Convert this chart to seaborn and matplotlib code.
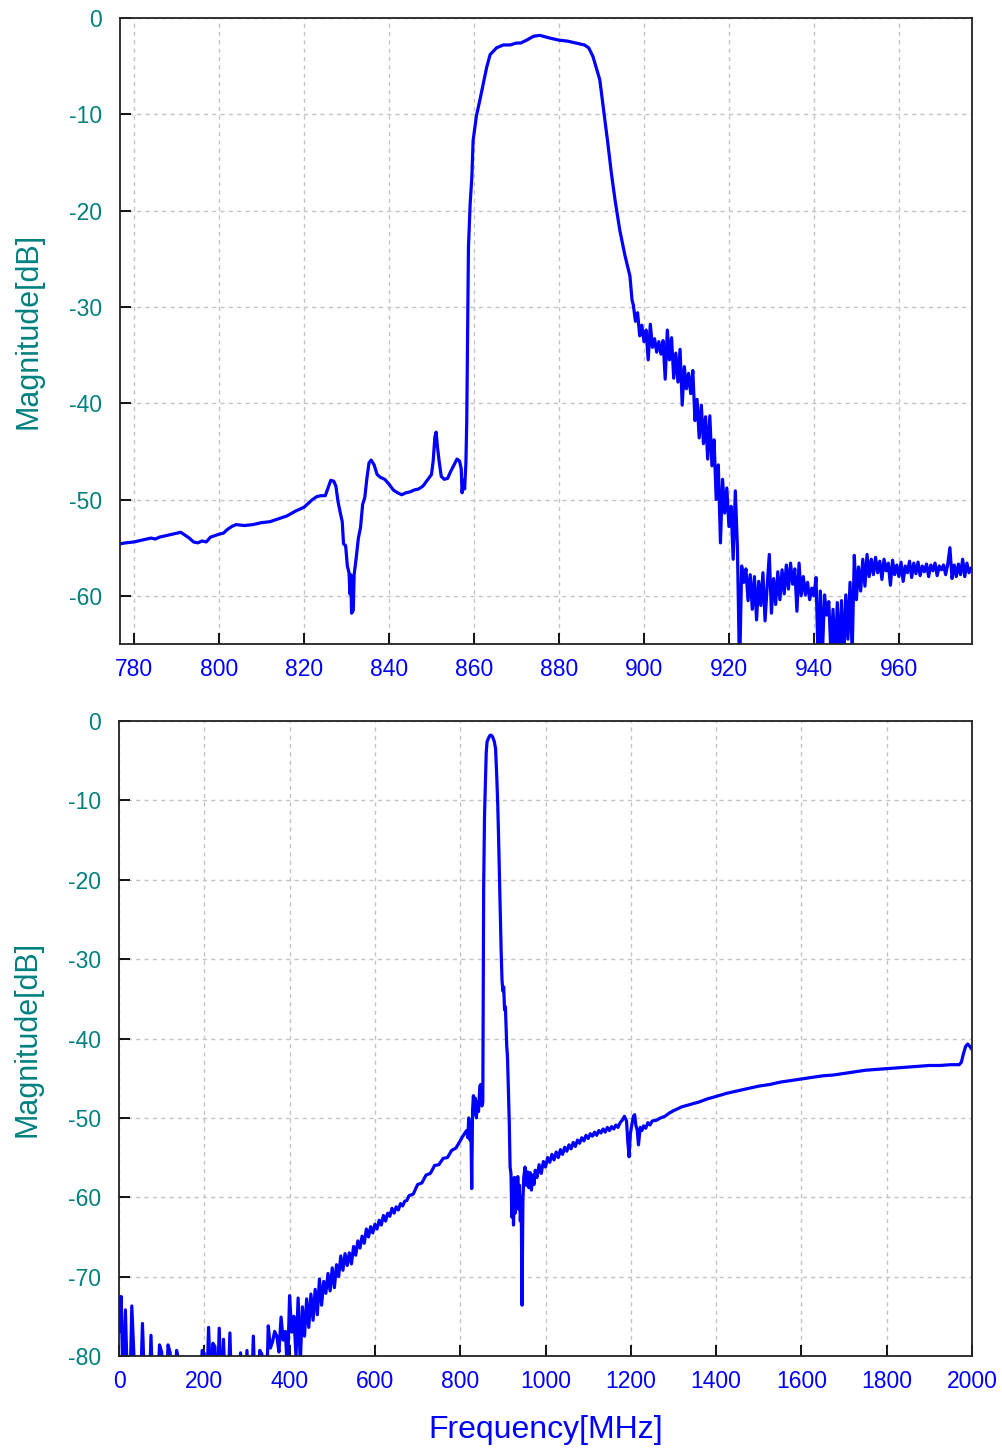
import matplotlib
matplotlib.use("Agg")
import matplotlib.pyplot as plt
import numpy as np
import pandas as pd
import seaborn as sns

# ---------------- data: top panel (zoom 777-977 MHz) ----------------
top_freq_smooth = [
    776.7, 778, 780, 782, 784, 785, 786, 788, 790, 791, 792, 793, 794, 795, 796, 797, 798,
    800, 801, 802, 803, 804, 806, 808, 810, 812, 814, 816, 818, 820, 821, 822, 823, 824, 825,
    825.5, 826.3, 827, 827.5, 828, 828.6, 829, 829.3, 829.8, 830.2, 830.6, 830.8, 831.0, 831.2,
    831.6, 831.8, 832.3, 832.8, 833.3, 833.8, 834.3, 834.8, 835.3, 835.8, 836.5, 837.2, 838,
    839, 840, 841, 842, 843, 844, 845, 846, 847, 848, 849, 850, 850.4, 850.8, 851.1, 851.4,
    851.8, 852.3, 853, 853.8, 854.5, 855.2, 856, 856.6, 857.0, 857.2, 857.5, 857.8, 858.1,
    858.3, 858.5, 858.7, 859.1, 859.5, 859.8, 860.6, 861.4, 862.2, 863, 863.8, 865.3, 866.9,
    868.5, 870, 871, 872.4, 873.2, 874, 875.5, 876.3, 878, 880, 882, 884, 886, 887, 888, 889,
    889.6, 890.2, 890.8, 891.5, 892.3, 893.2, 894.3, 895.5, 896.7, 897.2,
]
top_db_smooth = [
    -54.6, -54.5, -54.4, -54.2, -54.0, -54.1, -53.9, -53.7, -53.5, -53.4, -53.7, -54.0, -54.4, -54.5, -54.3, -54.4, -53.9,
    -53.6, -53.5, -53.1, -52.8, -52.6, -52.7, -52.6, -52.4, -52.3, -52.0, -51.7, -51.2, -50.8, -50.4, -50.0, -49.7, -49.6, -49.6,
    -49.0, -48.0, -48.1, -48.6, -50.2, -51.5, -52.3, -54.6, -54.8, -56.9, -57.6, -59.8, -57.8, -61.8,
    -61.5, -57.8, -56.0, -54.0, -52.9, -50.5, -49.8, -47.8, -46.2, -45.9, -46.4, -47.4, -47.7,
    -47.9, -48.4, -49.0, -49.3, -49.5, -49.3, -49.2, -49.0, -48.9, -48.6, -48.0, -47.4, -46.0, -43.5, -43.0, -44.5,
    -46.0, -47.6, -47.9, -47.8, -47.1, -46.5, -45.8, -46.0, -46.8, -49.3, -48.0, -48.9, -46.2,
    -41.8, -33.0, -23.8, -19.3, -16.5, -12.7, -10.1, -8.5, -6.8, -5.1, -3.8, -3.1, -2.8,
    -2.8, -2.6, -2.6, -2.3, -2.1, -1.9, -1.8, -1.9, -2.1, -2.3, -2.4, -2.6, -2.8, -3.1, -4.0, -5.5,
    -6.4, -8.5, -10.6, -13.0, -16.0, -18.9, -22.0, -24.6, -26.8, -29.3,
]
top_freq_noisy = [
    897.5, 898.0, 898.5, 899.0, 899.5, 900.0, 900.5, 901.0, 901.5, 902.0,
    902.5, 903.0, 903.5, 904.0, 904.5, 905.0, 905.5, 906.0, 906.5, 907.0,
    907.5, 908.0, 908.5, 909.0, 909.5, 910.0, 910.5, 911.0, 911.5, 912.0,
    912.5, 913.0, 913.5, 914.0, 914.5, 915.0, 915.5, 916.0, 916.5, 917.0,
    917.5, 918.0, 918.5, 919.0, 919.5, 920.0, 920.5, 921.0, 921.5, 922.0,
    922.5, 923.0, 923.5, 924.0, 924.5, 925.0, 925.5, 926.0, 926.5, 927.0,
    927.5, 928.0, 928.5, 929.0, 929.5, 930.0, 930.5, 931.0, 931.5, 932.0,
    932.5, 933.0, 933.5, 934.0, 934.5, 935.0, 935.5, 936.0, 936.5, 937.0,
    937.5, 938.0, 938.5, 939.0, 939.5, 940.0, 940.5, 941.0, 941.5, 942.0,
    942.5, 943.0, 943.5, 944.0, 944.5, 945.0, 945.5, 946.0, 946.5, 947.0,
    947.5, 948.0, 948.5, 949.0, 949.5, 950.0, 950.5, 951.0, 951.5, 952.0,
    952.5, 953.0, 953.5, 954.0, 954.5, 955.0, 955.5, 956.0, 956.5, 957.0,
    957.5, 958.0, 958.5, 959.0, 959.5, 960.0, 960.5, 961.0, 961.5, 962.0,
    962.5, 963.0, 963.5, 964.0, 964.5, 965.0, 965.5, 966.0, 966.5, 967.0,
    967.5, 968.0, 968.5, 969.0, 969.5, 970.0, 970.5, 971.0, 971.5, 972.0,
    972.5, 973.0, 973.5, 974.0, 974.5, 975.0, 975.5, 976.0, 976.5, 977.0,
]
top_db_noisy = [
    -29.8, -31.5, -30.6, -33.0, -31.9, -33.6, -32.4, -35.5, -31.8, -34.2,
    -33.3, -34.7, -33.6, -34.9, -33.5, -37.5, -32.4, -35.5, -33.2, -37.4,
    -34.8, -37.8, -34.4, -40.2, -36.2, -38.5, -36.9, -39.0, -36.6, -41.8,
    -39.6, -43.6, -40.2, -44.2, -41.4, -45.8, -41.3, -46.5, -43.8, -50.0,
    -46.4, -54.5, -47.9, -51.4, -48.8, -52.8, -50.7, -56.2, -49.1, -55.0,
    -68.0, -56.9, -58.6, -57.2, -60.5, -57.8, -61.4, -58.0, -62.5, -58.5,
    -61.0, -57.6, -62.6, -59.0, -55.7, -61.8, -58.2, -60.9, -57.5, -60.4,
    -57.3, -59.8, -56.8, -59.3, -56.6, -58.8, -57.2, -61.6, -56.6, -60.0,
    -58.0, -59.9, -58.6, -60.4, -59.2, -60.0, -58.1, -67.0, -59.5, -66.0,
    -59.9, -62.0, -60.6, -66.0, -61.4, -67.0, -60.7, -66.5, -60.5, -67.0,
    -59.9, -64.5, -58.6, -66.0, -55.8, -60.4, -57.0, -59.5, -56.2, -59.0,
    -55.7, -58.0, -56.2, -57.8, -56.0, -57.6, -56.4, -58.3, -56.2, -57.4,
    -56.6, -58.9, -56.3, -57.8, -56.8, -58.0, -56.5, -58.5, -56.9, -57.6,
    -56.4, -58.1, -56.6, -57.7, -56.5, -57.9, -56.9, -57.5, -56.7, -58.0,
    -56.8, -57.4, -56.6, -57.9, -56.9, -57.3, -56.8, -57.8, -56.7, -55.0,
    -58.2, -56.8, -58.0, -56.7, -57.8, -56.2, -58.0, -56.6, -57.6, -57.1,
]

# ---------------- data: bottom panel (wideband 0-2000 MHz) ----------------
bot_freq_low = [
    0, 5, 10, 15, 20, 25, 30, 35, 40, 45, 50, 55, 60, 65, 70, 75, 80, 85, 90, 95,
    100, 105, 110, 115, 120, 125, 130, 135, 140, 145, 150, 155, 160, 165, 170, 175, 180, 185, 190, 195,
    200, 205, 210, 215, 220, 225, 230, 235, 240, 245, 250, 255, 260, 265, 270, 275, 280, 285, 290, 295,
    300, 305, 310, 315, 320, 325, 330, 335, 340, 345, 350, 355, 360, 365, 370, 375, 380, 385, 390, 395,
    400, 405, 410, 415, 420, 425, 430,
]
bot_db_low = [
    -77.0, -72.5, -85.0, -74.2, -84.0, -86.0, -73.7, -80.0, -85.0, -86.0, -85.0, -75.9, -84.0, -86.0, -86.0, -77.4, -86.0, -86.0, -85.0, -78.6,
    -79.5, -86.0, -86.0, -78.6, -79.6, -86.0, -86.0, -79.3, -80.5, -86.0, -86.0, -86.0, -86.0, -86.0, -86.0, -86.0, -86.0, -86.0, -86.0, -79.3,
    -79.7, -86.0, -76.4, -84.0, -78.4, -78.8, -86.0, -76.5, -86.0, -77.9, -86.0, -86.0, -77.1, -86.0, -86.0, -86.0, -86.0, -79.6, -86.0, -86.0,
    -79.3, -86.0, -86.0, -77.5, -86.0, -86.0, -79.3, -79.8, -86.0, -86.0, -76.2, -79.0, -78.2, -76.9, -77.5, -79.5, -75.1, -78.0, -76.9, -82.0,
    -72.4, -77.0, -75.0, -80.0, -72.7, -81.0, -73.8,
]
bot_freq_rise = [
    435, 440, 445, 450, 455, 460, 465, 470, 475, 480, 485, 490, 495, 500, 505, 510, 515, 520, 525, 530,
    535, 540, 545, 550, 555, 560, 565, 570, 575, 580, 585, 590, 595, 600, 605, 610, 615, 620, 625, 630,
    635, 640, 645, 650, 655, 660, 665, 670, 675, 680, 690, 700, 710, 720, 730, 740, 750, 760, 770, 780,
    790, 800,
]
bot_db_rise = [
    -77.5, -72.8, -76.4, -72.2, -75.5, -71.6, -74.8, -70.3, -73.6, -70.6, -72.1, -69.6, -71.8, -68.9, -71.4, -68.5, -70.0, -67.4, -69.2, -67.1,
    -68.6, -67.0, -68.4, -66.2, -67.3, -65.5, -66.4, -64.9, -65.8, -64.0, -65.0, -63.7, -64.5, -63.4, -64.0, -62.9, -63.5, -62.3, -63.0, -62.0,
    -62.4, -61.4, -62.0, -61.2, -61.6, -60.8, -61.1, -60.5, -60.4, -59.8, -59.6, -58.4, -58.2, -57.2, -57.0, -56.0, -55.9, -55.1, -55.0, -54.1,
    -53.8, -52.9,
]
bot_freq_band = [
    805, 810, 815, 818, 820, 823, 825, 827, 829, 831, 833, 835, 838, 840, 843, 846, 848, 851, 853, 855,
    857, 859, 861, 863, 866, 870, 873, 876, 880, 883, 886, 888, 890, 892, 894, 896, 898, 900, 902, 904,
    906, 909, 911, 913, 915, 917, 919, 921, 923, 925, 927, 929, 931, 933, 935, 937, 939, 941, 943, 945,
    947, 949, 952, 955, 958, 961, 964, 967, 970, 973, 976, 980, 985, 990, 995,
]
bot_db_band = [
    -52.4, -52.0, -51.6, -52.5, -50.0, -52.8, -50.6, -58.9, -49.0, -47.2, -49.5, -47.5, -50.0, -48.0, -49.2, -46.0, -45.8, -48.5, -48.0, -21.0,
    -12.0, -8.2, -4.0, -2.6, -2.2, -1.8, -1.8, -2.0, -2.6, -3.5, -7.4, -10.5, -14.7, -19.5, -24.3, -29.0, -32.6, -34.0, -33.5, -36.4,
    -36.0, -40.8, -42.5, -46.6, -50.5, -56.2, -57.0, -62.5, -58.0, -63.5, -57.5, -62.0, -58.0, -60.0, -57.4, -61.5, -58.5, -63.0, -60.0, -73.6,
    -60.5, -57.5, -56.2, -58.5, -56.8, -58.8, -56.9, -59.1, -57.2, -58.4, -56.6, -57.5, -55.9, -57.0, -55.5,
]
bot_freq_mid = [
    1000, 1005, 1010, 1015, 1020, 1025, 1030, 1035, 1040, 1045, 1050, 1055, 1060, 1065, 1070, 1075, 1080, 1085, 1090, 1095,
    1100, 1105, 1110, 1115, 1120, 1125, 1130, 1135, 1140, 1145, 1150, 1155, 1160, 1165, 1170, 1175, 1180, 1185, 1190, 1193,
    1196, 1199, 1202, 1206, 1209, 1212, 1215, 1218, 1222, 1226, 1230, 1235, 1240, 1245, 1250, 1260, 1270, 1280, 1290, 1300,
]
bot_db_mid = [
    -56.2, -55.0, -55.6, -54.6, -55.3, -54.3, -55.0, -54.0, -54.6, -53.7, -54.2, -53.4, -53.9, -53.1, -53.6, -52.8, -53.2, -52.5, -52.9, -52.2,
    -52.6, -52.0, -52.3, -51.8, -52.2, -51.6, -51.9, -51.4, -51.8, -51.2, -51.6, -51.1, -51.4, -50.9, -51.2, -50.6, -50.3, -49.8, -50.4, -53.0,
    -54.9, -52.0, -51.0, -49.8, -49.6, -51.0, -51.5, -53.4, -51.2, -51.6, -51.0, -51.3, -50.6, -50.9, -50.4, -50.3, -50.0, -49.8, -49.4, -49.1,
]
bot_freq_high = [
    1320, 1340, 1360, 1380, 1400, 1425, 1450, 1475, 1500, 1525, 1550, 1575, 1600, 1625, 1650, 1675, 1700, 1725, 1750, 1775,
    1800, 1825, 1850, 1875, 1900, 1925, 1950, 1970, 1975, 1980, 1985, 1990, 1995, 2000, 2005,
]
bot_db_high = [
    -48.6, -48.3, -48.0, -47.6, -47.3, -46.9, -46.6, -46.3, -46.0, -45.8, -45.5, -45.3, -45.1, -44.9, -44.7, -44.6, -44.4, -44.2, -44.0, -43.9,
    -43.8, -43.7, -43.6, -43.5, -43.4, -43.4, -43.3, -43.3, -43.0, -41.9, -41.0, -40.7, -41.0, -41.4, -41.5,
]

top_xticks = [780, 800, 820, 840, 860, 880, 900, 920, 940, 960]
top_yticks = [0, -10, -20, -30, -40, -50, -60]
bot_xticks = [0, 200, 400, 600, 800, 1000, 1200, 1400, 1600, 1800, 2000]
bot_yticks = [0, -10, -20, -30, -40, -50, -60, -70, -80]

top_df = pd.DataFrame({
    "Frequency": top_freq_smooth + top_freq_noisy,
    "Magnitude": top_db_smooth + top_db_noisy,
})
bot_df = pd.DataFrame({
    "Frequency": bot_freq_low + bot_freq_rise + bot_freq_band + bot_freq_mid + bot_freq_high,
    "Magnitude": bot_db_low + bot_db_rise + bot_db_band + bot_db_mid + bot_db_high,
})

# ---------------- style ----------------
sns.set_style("white")
plt.rcParams["font.family"] = ["Liberation Sans", "DejaVu Sans"]

LINE = "#0000FF"
XCOL = "#0000FF"
YCOL = "#008080"

fig = plt.figure(figsize=(10.02, 14.5), dpi=100)
ax1 = fig.add_axes([120 / 1002, 1 - 644 / 1450, 852 / 1002, 626 / 1450])
ax2 = fig.add_axes([119 / 1002, 1 - 1356 / 1450, 853 / 1002, 635 / 1450])

sns.lineplot(data=top_df, x="Frequency", y="Magnitude", ax=ax1, color=LINE,
             linewidth=2.3, estimator=None, sort=False)
sns.lineplot(data=bot_df, x="Frequency", y="Magnitude", ax=ax2, color=LINE,
             linewidth=2.3, estimator=None, sort=False)


def style(ax, xlim, ylim, xticks, yticks):
    ax.set_xlim(*xlim)
    ax.set_ylim(*ylim)
    ax.set_xticks(xticks)
    ax.set_yticks(yticks)
    ax.set_xticklabels([str(t) for t in xticks])
    ax.set_yticklabels([str(t) for t in yticks])
    ax.grid(True, color="#c4c4c4", linestyle=(0, (3, 3)), linewidth=1.0)
    ax.set_axisbelow(True)
    ax.tick_params(direction="in", length=8, width=1.3, colors="black",
                   top=False, right=False, bottom=True, left=True, labelsize=16.5)
    ax.tick_params(axis="x", labelcolor=XCOL, pad=10)
    ax.tick_params(axis="y", labelcolor=YCOL, pad=13)
    for sp in ax.spines.values():
        sp.set_visible(True)
        sp.set_color("#222222")
        sp.set_linewidth(1.3)
    ax.set_ylabel("Magnitude[dB]", color=YCOL, fontsize=22, labelpad=18)
    ax.set_xlabel("")


style(ax1, (776.7, 977.2), (-65, 0), top_xticks, top_yticks)
style(ax2, (0, 2000), (-80, 0), bot_xticks, bot_yticks)
ax2.set_xlabel("Frequency[MHz]", color=XCOL, fontsize=23, labelpad=16)

fig.savefig("out.png", dpi=100)
